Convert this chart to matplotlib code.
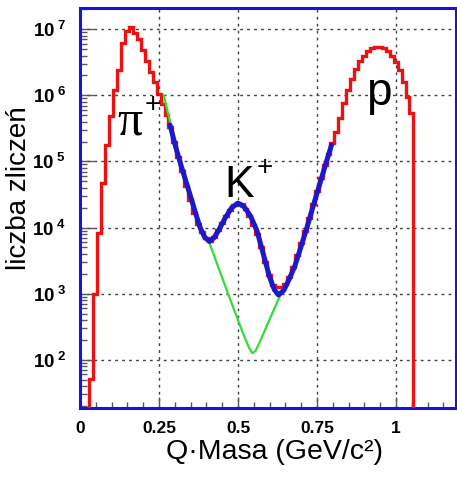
import numpy as np
import matplotlib
matplotlib.use('Agg')
from matplotlib import pyplot as plt
from matplotlib.ticker import MultipleLocator, LogLocator, FixedLocator, FixedFormatter, NullFormatter

plt.rcParams['font.family'] = ['Liberation Sans', 'DejaVu Sans']
plt.rcParams['mathtext.fontset'] = 'custom'
plt.rcParams['mathtext.rm'] = 'Liberation Sans'
plt.rcParams['mathtext.bf'] = 'Liberation Sans:bold'
plt.rcParams['mathtext.it'] = 'Liberation Sans:italic'

# measured histogram (red): first bin edge, bin width, log10(counts) per bin
hist_start = 0.03
hist_width = 0.0125
hist_log = [1.71, 3.0, 3.92, 4.67, 5.25, 5.68, 6.08, 6.38, 6.79, 6.98,
            7.03, 6.95, 6.85, 6.68, 6.52, 6.36, 6.2, 6.02, 5.87, 5.7,
            5.52, 5.3, 5.07, 4.85, 4.63, 4.42, 4.22, 4.05, 3.93, 3.84,
            3.8, 3.85, 3.96, 4.07, 4.17, 4.27, 4.34, 4.37, 4.35, 4.28,
            4.17, 4.04, 3.9, 3.7, 3.48, 3.28, 3.13, 3.1, 3.1, 3.15,
            3.25, 3.4, 3.58, 3.77, 3.95, 4.15, 4.35, 4.55, 4.75, 4.95,
            5.12, 5.28, 5.45, 5.65, 5.88, 6.08, 6.25, 6.4, 6.52, 6.6,
            6.67, 6.71, 6.73, 6.73, 6.71, 6.67, 6.6, 6.5, 6.38, 6.2,
            5.98, 5.73]

# full fit pi + K + p (blue)
fit_x = [0.285, 0.30, 0.316, 0.33, 0.35, 0.365, 0.38, 0.395, 0.41, 0.425,
         0.44, 0.46, 0.48, 0.50, 0.52, 0.54, 0.56, 0.58, 0.60, 0.615,
         0.628, 0.645, 0.66, 0.68, 0.70, 0.718, 0.74, 0.76, 0.78, 0.796]
fit_log = [5.55, 5.27, 5.0, 4.78, 4.47, 4.23, 4.0, 3.85, 3.79, 3.85,
           3.97, 4.15, 4.3, 4.37, 4.31, 4.17, 3.95, 3.6, 3.25, 3.06,
           2.98, 3.05, 3.2, 3.42, 3.72, 4.0, 4.36, 4.68, 5.0, 5.25]

# background fit pi + p only (green)
bg_x = [0.265, 0.285, 0.30, 0.316, 0.35, 0.38, 0.41, 0.44, 0.47, 0.50,
        0.52, 0.535, 0.545, 0.555, 0.57, 0.59, 0.61, 0.625, 0.64]
bg_log = [6.0, 5.6, 5.3, 5.02, 4.47, 4.03, 3.76, 3.37, 2.98, 2.6,
          2.35, 2.18, 2.1, 2.13, 2.28, 2.5, 2.72, 2.88, 3.04]

x_ticks = [0, 0.25, 0.5, 0.75, 1]
x_ticklabels = ['0', '0.25', '0.5', '0.75', '1']
y_exps = [2, 3, 4, 5, 6, 7]

counts = 10 ** np.array(hist_log)
edges = hist_start + hist_width * np.arange(len(counts) + 1)

fig = plt.figure(figsize=(4.57, 4.78), dpi=100)
ax = fig.add_axes([0.175, 0.1464, 0.823, 0.837])

ax.stairs(counts, edges, baseline=1, color='#ee1111', lw=2.4, zorder=3)
ax.plot(bg_x, 10 ** np.array(bg_log), color='#33dd33', lw=1.6, zorder=4)
ax.plot(fit_x, 10 ** np.array(fit_log), color='#1a1acc', lw=3.6, zorder=5,
        solid_capstyle='round')

ax.set_yscale('log')
ax.set_xlim(0, 1.19)
ax.set_ylim(18.6, 2.1e7)

ax.xaxis.set_major_locator(FixedLocator(x_ticks))
ax.xaxis.set_major_formatter(FixedFormatter(x_ticklabels))
ax.xaxis.set_minor_locator(MultipleLocator(0.05))
ax.yaxis.set_major_locator(FixedLocator([10.0 ** e for e in y_exps]))
ax.yaxis.set_major_formatter(FixedFormatter([r'$\mathbf{10^{\ %d}}$' % e for e in y_exps]))
ax.yaxis.set_minor_locator(LogLocator(base=10, subs=np.arange(2, 10)))
ax.yaxis.set_minor_formatter(NullFormatter())

ax.tick_params(axis='both', which='both', direction='in', color='0.35', width=1,
               top=False, right=False)
ax.tick_params(axis='x', which='major', length=8, pad=9, labelsize=12.5)
ax.tick_params(axis='x', which='minor', length=4)
ax.tick_params(axis='y', which='major', length=10, pad=10, labelsize=13.5)
ax.tick_params(axis='y', which='minor', length=5)
for lab in ax.get_xticklabels():
    lab.set_fontweight('bold')

ax.grid(True, which='major', color='0.25', linestyle=(0, (2, 3)), linewidth=1)

for s in ax.spines.values():
    s.set_color('#1515dd')
    s.set_linewidth(2.2)

ax.set_xlabel('Q\u00b7Masa (GeV/c\u00b2)', fontsize=20.5)
ax.xaxis.label.set_va('baseline')
ax.xaxis.set_label_coords(0.518, -0.127)
ax.set_ylabel('liczba zlicze\u0144', fontsize=20)
ax.yaxis.label.set_va('center')
ax.yaxis.set_label_coords(-0.163, 0.55)

ax.text(0.158, 10 ** 5.4, '\u03c0', fontsize=36, family='Liberation Serif',
        ha='center', va='baseline', zorder=6)
ax.text(0.231, 10 ** 5.85, '+', fontsize=20, ha='center', va='center', zorder=6)
ax.text(0.503, 10 ** 4.46, 'K', fontsize=32, ha='center', va='baseline', zorder=6)
ax.text(0.585, 10 ** 4.9, '+', fontsize=20, ha='center', va='center', zorder=6)
ax.text(0.944, 10 ** 5.85, 'p', fontsize=33, ha='center', va='baseline', zorder=6)

fig.savefig('out.png', dpi=100)
